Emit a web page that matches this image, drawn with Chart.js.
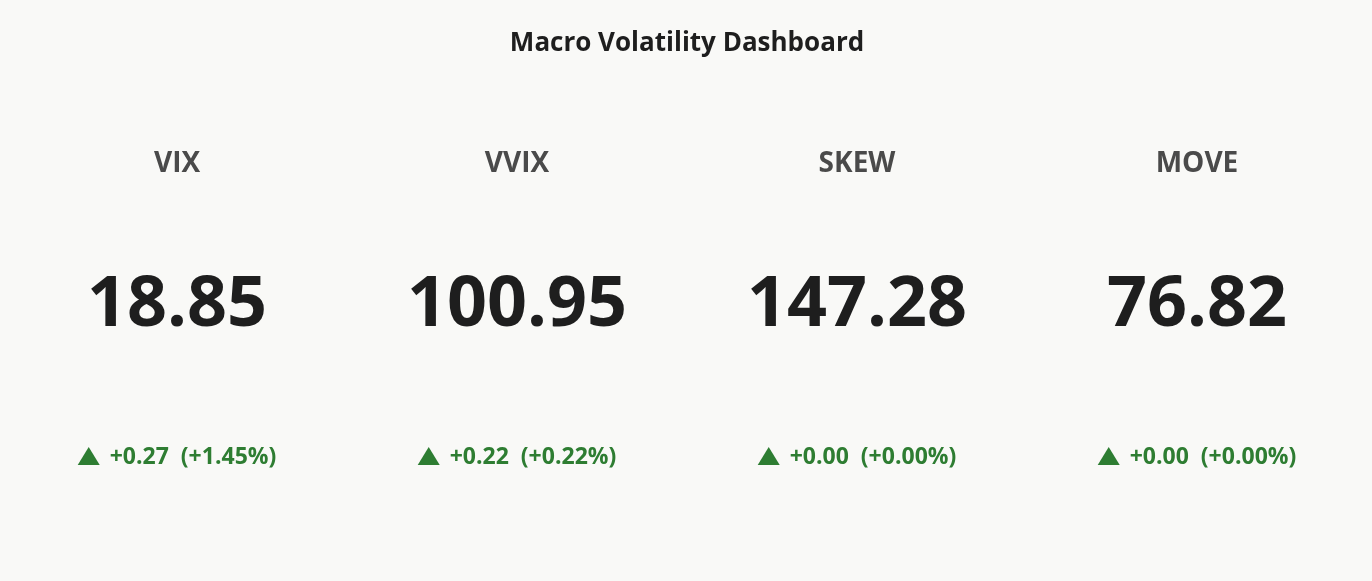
<!DOCTYPE html>
<html>
<head>
<meta charset="utf-8">
<script src="https://cdn.jsdelivr.net/npm/chart.js@4"></script>
<style>
  html, body { margin: 0; padding: 0; background: #f9f9f7; }
  #wrap { width: 1372px; height: 581px; }
</style>
</head>
<body>
<div id="wrap"><canvas id="c"></canvas></div>
<script>
const names = ['VIX', 'VVIX', 'SKEW', 'MOVE'];
const values = [18.85, 100.95, 147.28, 76.82];
const changes = [0.27, 0.22, 0.00, 0.00];
const pctChanges = [1.45, 0.22, 0.00, 0.00];

const FONT = '"Open Sans", "Noto Sans", sans-serif';

// draws the tiles on top of the hidden category axis
const tilesPlugin = {
  id: 'tiles',
  afterDraw(chart) {
    const ctx = chart.ctx;
    const x = chart.scales.x;
    ctx.save();
    ctx.textAlign = 'center';
    ctx.textBaseline = 'middle';
    names.forEach((n, i) => {
      const cx = x.getPixelForValue(i);
      ctx.fillStyle = '#4a4a4a';
      ctx.font = 'bold 28px ' + FONT;
      ctx.fillText(n, cx, 164);

      ctx.fillStyle = '#1e1e1e';
      ctx.font = 'bold 70px ' + FONT;
      ctx.fillText(values[i].toFixed(2), cx, 306);

      const up = changes[i] >= 0;
      const sign = up ? '+' : '-';
      const txt = sign + Math.abs(changes[i]).toFixed(2) + '  (' + sign + Math.abs(pctChanges[i]).toFixed(2) + '%)';
      ctx.fillStyle = up ? '#2e7d32' : '#c62828';
      ctx.font = 'bold 23px ' + FONT;
      const tw = ctx.measureText(txt).width;
      const triW = 22, gap = 10;
      const start = cx - (tw + triW + gap) / 2;
      ctx.beginPath();
      if (up) {
        ctx.moveTo(start, 465); ctx.lineTo(start + triW, 465); ctx.lineTo(start + triW / 2, 447);
      } else {
        ctx.moveTo(start, 447); ctx.lineTo(start + triW, 447); ctx.lineTo(start + triW / 2, 465);
      }
      ctx.closePath();
      ctx.fill();
      ctx.textAlign = 'left';
      ctx.fillText(txt, start + triW + gap, 457);
      ctx.textAlign = 'center';
    });
    ctx.restore();
  }
};

new Chart(document.getElementById('c'), {
  type: 'bar',
  data: {
    labels: names,
    datasets: [{ data: values, backgroundColor: 'rgba(0,0,0,0)' }]
  },
  options: {
    responsive: true,
    maintainAspectRatio: false,
    animation: false,
    layout: { padding: { left: 7, right: 5 } },
    scales: {
      x: { display: false, offset: true },
      y: { display: false }
    },
    plugins: {
      legend: { display: false },
      tooltip: { enabled: false },
      title: {
        display: true,
        text: 'Macro Volatility Dashboard',
        color: '#1e1e1e',
        font: { family: FONT, size: 26, weight: 'bold' },
        padding: { top: 28, bottom: 10 }
      }
    }
  },
  plugins: [tilesPlugin]
});
</script>
</body>
</html>
